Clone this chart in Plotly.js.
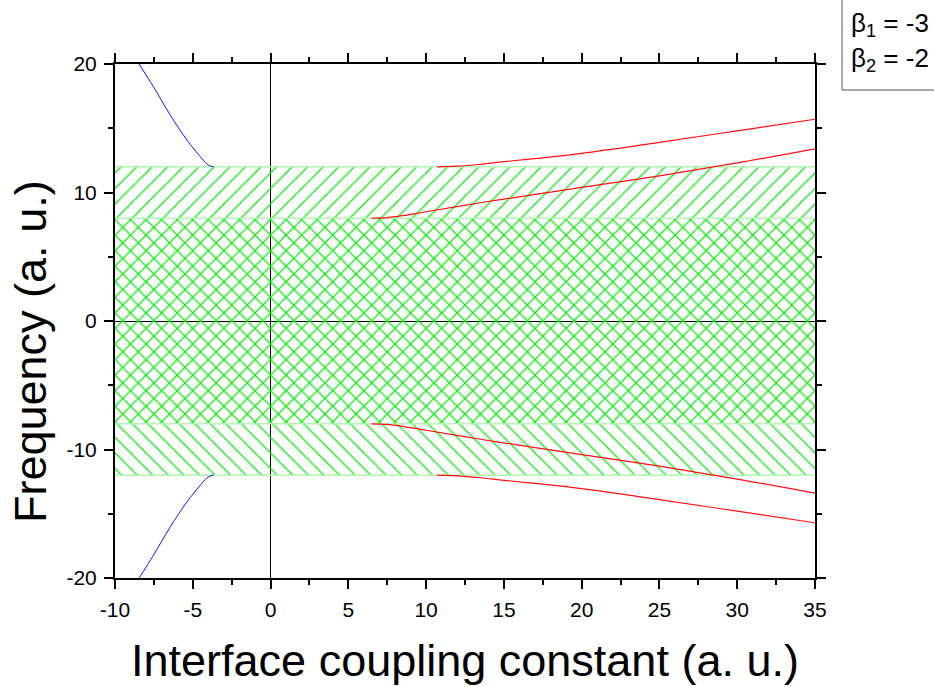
<!DOCTYPE html>
<html><head><meta charset="utf-8">
<script src="https://cdn.plot.ly/plotly-3.0.1.min.js"></script>
<style>body{margin:0;background:#fff}#chart{width:934px;height:687px}</style>
</head><body><div id="chart"></div>
<script>
// Band edges (frequency)
const bandUpperX = [-10, 35, 35, -10];
const bandUpperY = [-8, -8, 12, 12];
const bandLowerX = [-10, 35, 35, -10];
const bandLowerY = [-12, -12, 8, 8];
const bandEdges = [12, 8, -8, -12];

// Blue branch (upper); lower is mirrored
const blueX = [-8.45, -7.53, -6.45, -5.38, -4.52, -4.09, -3.85, -3.66];
const blueY = [20, 18.23, 16.03, 14.09, 12.79, 12.22, 12.05, 12.0];

// Red branches (upper); lower are mirrored
const redOuterX = [10.7, 12, 13.5, 15, 17.5, 20, 25, 30, 35];
const redOuterY = [12.0, 12.05, 12.2, 12.4, 12.7, 13.05, 13.9, 14.8, 15.7];
const redInnerX = [6.5, 7.5, 8.5, 10, 13.5, 17, 20, 25, 30, 35];
const redInnerY = [8.0, 8.05, 8.2, 8.5, 9.2, 9.85, 10.4, 11.3, 12.3, 13.4];

// Tick labels
const xTickVals = [-10, -5, 0, 5, 10, 15, 20, 25, 30, 35];
const xTickText = ['-10', '-5', '0', '5', '10', '15', '20', '25', '30', '35'];
const yTickVals = [-20, -10, 0, 10, 20];
const yTickText = ['-20', '-10', '0', '10', '20'];

// Legend texts
const legendLines = ['β<sub>1</sub> = -3', 'β<sub>2</sub> = -2'];

const neg = a => a.map(v => -v);
const green = '#14e614';
const FONT = 'Liberation Sans, Arial, sans-serif';
const traces = [
  {x: bandUpperX, y: bandUpperY, type: 'scatter', mode: 'none', fill: 'toself',
   fillcolor: 'rgba(0,0,0,0)', hoverinfo: 'skip',
   fillpattern: {shape: '/', fgcolor: green, bgcolor: 'rgba(0,0,0,0)', size: 11, solidity: 0.12}},
  {x: bandLowerX, y: bandLowerY, type: 'scatter', mode: 'none', fill: 'toself',
   fillcolor: 'rgba(0,0,0,0)', hoverinfo: 'skip',
   fillpattern: {shape: '\\', fgcolor: green, bgcolor: 'rgba(0,0,0,0)', size: 11, solidity: 0.12}},
];
bandEdges.forEach(e => traces.push({x: [-10, 35], y: [e, e], mode: 'lines', line: {color: '#b0f5b0', width: 1.5}}));
const sp = {shape: 'spline', smoothing: 1};
traces.push(
  {x: blueX, y: blueY, mode: 'lines', line: Object.assign({color: '#1414ff', width: 1}, sp)},
  {x: blueX, y: neg(blueY), mode: 'lines', line: Object.assign({color: '#1414ff', width: 1}, sp)},
  {x: redOuterX, y: redOuterY, mode: 'lines', line: Object.assign({color: '#ff1010', width: 1.2}, sp)},
  {x: redInnerX, y: redInnerY, mode: 'lines', line: Object.assign({color: '#ff1010', width: 1.2}, sp)},
  {x: redOuterX, y: neg(redOuterY), mode: 'lines', line: Object.assign({color: '#ff1010', width: 1.2}, sp)},
  {x: redInnerX, y: neg(redInnerY), mode: 'lines', line: Object.assign({color: '#ff1010', width: 1.2}, sp)}
);

const axisCommon = {
  showgrid: false, zeroline: true, zerolinecolor: '#000', zerolinewidth: 1,
  showline: true, linecolor: '#000', linewidth: 2, mirror: 'allticks',
  ticks: 'outside', ticklen: 9, tickwidth: 2, tickcolor: '#000',
  tickmode: 'array', ticklabelstandoff: 3,
  minor: {ticks: 'outside', ticklen: 5, tickwidth: 2, tickcolor: '#000'},
  tickfont: {family: FONT, size: 21, color: '#000'},
};
const layout = {
  width: 934, height: 687,
  margin: {l: 115, r: 119, t: 64, b: 109},
  paper_bgcolor: '#fff', plot_bgcolor: '#fff',
  showlegend: false,
  xaxis: Object.assign({}, axisCommon, {
    range: [-10, 35], tickvals: xTickVals, ticktext: xTickText,
    minor: Object.assign({}, axisCommon.minor, {dtick: 2.5, tick0: 0}),
    title: {text: 'Interface coupling constant (a. u.)', standoff: 24,
      font: {family: FONT, size: 45, color: '#000'}}
  }),
  yaxis: Object.assign({}, axisCommon, {
    range: [-20, 20], tickvals: yTickVals, ticktext: yTickText,
    minor: Object.assign({}, axisCommon.minor, {dtick: 5, tick0: 0})
  }),
  shapes: [{
    type: 'rect', xref: 'paper', yref: 'paper',
    x0: 1.0386, x1: 1.2, y0: 0.9494, y1: 1.14,
    line: {color: '#555', width: 1}, fillcolor: '#fff', layer: 'above'
  }],
  annotations: [
    {xref: 'paper', yref: 'paper', x: (30 - 115) / 700, y: (578 - 352) / 514,
     xanchor: 'center', yanchor: 'middle', textangle: -90, showarrow: false,
     text: 'Frequency (a. u.)', font: {family: FONT, size: 45, color: '#000'}},
    {xref: 'paper', yref: 'paper', x: 1.049, y: 1.076, xanchor: 'left', yanchor: 'middle',
     text: legendLines[0], showarrow: false, font: {family: FONT, size: 26, color: '#000'}},
    {xref: 'paper', yref: 'paper', x: 1.049, y: 1.008, xanchor: 'left', yanchor: 'middle',
     text: legendLines[1], showarrow: false, font: {family: FONT, size: 26, color: '#000'}}
  ]
};
Plotly.newPlot('chart', traces, layout, {displayModeBar: false});
</script></body></html>
